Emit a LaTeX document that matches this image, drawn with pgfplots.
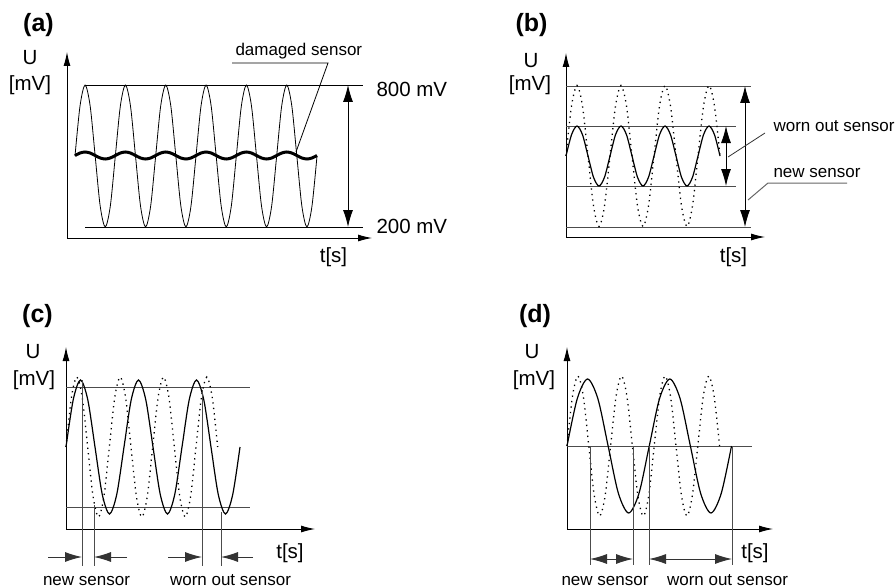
\documentclass[border=0pt]{standalone}
\usepackage{pgfplots}
\pgfplotsset{compat=1.18}
\usetikzlibrary{arrows.meta}
\usepackage{fontspec}
\setmainfont{Liberation Sans}
\newcommand\fa{\fontsize{17bp}{20bp}\selectfont}
\newcommand\fb{\fontsize{20.5bp}{24bp}\selectfont}
\newcommand\fc{\bfseries\fontsize{25bp}{30bp}\selectfont}
\begin{document}
\begin{tikzpicture}[
  tip/.style={-{Latex[length=17bp,width=10bp]}},
  dtip/.style={{Latex[length=17bp,width=10bp]}-{Latex[length=17bp,width=10bp]}},
  atip/.style={-{Latex[length=14bp,width=7bp]}},
  ref/.style={black!70,line width=0.9bp},
  dots/.style={black,line width=1.3bp,dash pattern=on 1.3bp off 4.2bp,smooth},
  sol/.style={black,line width=1.2bp,smooth}
]
\useasboundingbox (0,0) rectangle (895bp,587bp);
\begin{axis}[at={(0,0)},anchor=south west,width=895bp,height=587bp,scale only axis,
  xmin=0,xmax=895,ymin=0,ymax=587,y dir=reverse,hide axis,clip=false]
% ---------------- (a)
\addplot[black,line width=0.9bp,atip] coordinates {(67,238) (67,52)};
\addplot[black,line width=0.9bp,atip] coordinates {(67,238) (372,238)};
\addplot[black,line width=0.8bp] coordinates {(85,85) (363,85)};
\addplot[black,line width=0.8bp] coordinates {(85,227) (363,227)};
\addplot[black,line width=0.9bp,dtip] coordinates {(348,85) (348,227)};
\addplot[black,line width=0.8bp,smooth] coordinates {
(75,156) (80.04,105.8) (85.08,85) (90.13,105.8) (95.17,156) (100.21,206.2) (105.25,227) (110.29,206.2)
(115.33,156) (120.38,105.8) (125.42,85) (130.46,105.8) (135.5,156) (140.54,206.2) (145.58,227) (150.63,206.2)
(155.67,156) (160.71,105.8) (165.75,85) (170.79,105.8) (175.83,156) (180.88,206.2) (185.92,227) (190.96,206.2)
(196,156) (201.04,105.8) (206.08,85) (211.13,105.8) (216.17,156) (221.21,206.2) (226.25,227) (231.29,206.2)
(236.33,156) (241.38,105.8) (246.42,85) (251.46,105.8) (256.5,156) (261.54,206.2) (266.58,227) (271.63,206.2)
(276.67,156) (281.71,105.8) (286.75,85) (291.79,105.8) (296.83,156) (301.88,206.2) (306.92,227) (311.96,206.2)
(317,156)};
\addplot[black,line width=3bp,smooth] coordinates {
(75,155.5) (80.04,153) (85.08,152) (90.13,153) (95.17,155.5) (100.21,158) (105.25,159) (110.29,158)
(115.33,155.5) (120.38,153) (125.42,152) (130.46,153) (135.5,155.5) (140.54,158) (145.58,159) (150.63,158)
(155.67,155.5) (160.71,153) (165.75,152) (170.79,153) (175.83,155.5) (180.88,158) (185.92,159) (190.96,158)
(196,155.5) (201.04,153) (206.08,152) (211.13,153) (216.17,155.5) (221.21,158) (226.25,159) (231.29,158)
(236.33,155.5) (241.38,153) (246.42,152) (251.46,153) (256.5,155.5) (261.54,158) (266.58,159) (271.63,158)
(276.67,155.5) (281.71,153) (286.75,152) (291.79,153) (296.83,155.5) (301.88,158) (306.92,159) (311.96,158)
(317,155.5)};
\addplot[black,line width=0.8bp] coordinates {(232,63) (328,63) (296,152)};
\node[font=\fc] at (axis cs:38.5,25) {(a)};
\node[font=\fb,anchor=base] at (axis cs:30,65) {U};
\node[font=\fb,anchor=base] at (axis cs:30,91) {[mV]};
\node[font=\fb] at (axis cs:333.5,257) {t[s]};
\node[font=\fb,anchor=base west] at (axis cs:373,97) {800 mV};
\node[font=\fb,anchor=base west] at (axis cs:373,233) {200 mV};
\node[font=\fa,anchor=base west] at (axis cs:232,56) {damaged sensor};
% ---------------- (b)
\addplot[black,line width=0.9bp,atip] coordinates {(566,237) (566,53)};
\addplot[black,line width=0.9bp,atip] coordinates {(566,237) (765,237)};
\addplot[ref] coordinates {(566,86) (751,86)};
\addplot[ref] coordinates {(566,126) (736,126)};
\addplot[ref] coordinates {(566,186) (736,186)};
\addplot[ref] coordinates {(566,227) (751,227)};
\addplot[black,line width=0.9bp,dtip] coordinates {(745,86) (745,227)};
\addplot[black,line width=0.9bp,dtip] coordinates {(726,126) (726,186)};
\addplot[dots] coordinates {
(566,156) (571.5,106.1) (577,85.5) (582.5,106.1) (588,156) (593.5,205.9) (599,226.5) (604.5,205.9)
(610,156) (615.5,106.1) (621,85.5) (626.5,106.1) (632,156) (637.5,205.9) (643,226.5) (648.5,205.9)
(654,156) (659.5,106.1) (665,85.5) (670.5,106.1) (676,156) (681.5,205.9) (687,226.5) (692.5,205.9)
(698,156) (703.5,106.1) (709,85.5) (714.5,106.1) (720,156)};
\addplot[sol] coordinates {
(566,156) (571.5,134.8) (577,126) (582.5,134.8) (588,156) (593.5,177.2) (599,186) (604.5,177.2)
(610,156) (615.5,134.8) (621,126) (626.5,134.8) (632,156) (637.5,177.2) (643,186) (648.5,177.2)
(654,156) (659.5,134.8) (665,126) (670.5,134.8) (676,156) (681.5,177.2) (687,186) (692.5,177.2)
(698,156) (703.5,134.8) (709,126) (714.5,134.8) (720,156)};
\addplot[black!80,line width=0.8bp] coordinates {(765,133) (728,157)};
\addplot[black!60,line width=1bp] coordinates {(847,183) (768,183) (748,200)};
\node[font=\fc] at (axis cs:531.5,25) {(b)};
\node[font=\fb,anchor=base] at (axis cs:531,68) {U};
\node[font=\fb,anchor=base] at (axis cs:530,91) {[mV]};
\node[font=\fb] at (axis cs:733.5,257.5) {t[s]};
\node[font=\fa,anchor=base west] at (axis cs:770,131) {worn out sensor};
\node[font=\fa,anchor=base west] at (axis cs:770,177) {new sensor};
% ---------------- (c)
\addplot[black,line width=0.9bp,atip] coordinates {(66,529) (66,347)};
\addplot[black,line width=0.9bp,atip] coordinates {(66,529) (315,529)};
\addplot[ref] coordinates {(66,387) (250,387)};
\addplot[ref] coordinates {(66,507) (250,507)};
\addplot[dots] coordinates {
(66,447) (71.42,397.5) (76.83,377) (82.25,397.5) (87.67,447) (93.08,496.5) (98.5,517) (103.92,496.5)
(109.33,447) (114.75,397.5) (120.17,377) (125.58,397.5) (131,447) (136.42,496.5) (141.83,517) (147.25,496.5)
(152.67,447) (158.08,397.5) (163.5,377) (168.92,397.5) (174.33,447) (179.75,496.5) (185.17,517) (190.58,496.5)
(196,447) (201.42,397.5) (206.83,377) (212.25,397.5) (217.67,447)};
\addplot[sol] coordinates {
(66,447) (73.25,399.6) (80.5,380) (87.75,399.6) (95,447) (102.25,494.4) (109.5,514) (116.75,494.4)
(124,447) (131.25,399.6) (138.5,380) (145.75,399.6) (153,447) (160.25,494.4) (167.5,514) (174.75,494.4)
(182,447) (189.25,399.6) (196.5,380) (203.75,399.6) (211,447) (218.25,494.4) (225.5,514) (232.75,494.4)
(240,447)};
\addplot[ref] coordinates {(82,380) (82,566)};
\addplot[ref] coordinates {(94,505) (94,566)};
\addplot[ref] coordinates {(202,390) (202,566)};
\addplot[ref] coordinates {(221,512) (221,566)};
\addplot[black!80,line width=0.9bp,tip] coordinates {(48,557) (82,557)};
\addplot[black!80,line width=0.9bp,tip] coordinates {(127,557) (94,557)};
\addplot[black!80,line width=0.9bp,tip] coordinates {(168,557) (202,557)};
\addplot[black!80,line width=0.9bp,tip] coordinates {(253,557) (221,557)};
\node[font=\fc] at (axis cs:37.5,316) {(c)};
\node[font=\fb,anchor=base] at (axis cs:33,358) {U};
\node[font=\fb,anchor=base] at (axis cs:34,385) {[mV]};
\node[font=\fb] at (axis cs:290,553.5) {t[s]};
\node[font=\fa,anchor=base] at (axis cs:86.5,585) {new sensor};
\node[font=\fa,anchor=base] at (axis cs:230.5,585) {worn out sensor};
% ---------------- (d)
\addplot[black,line width=0.9bp,atip] coordinates {(567,529) (567,347)};
\addplot[black,line width=0.9bp,atip] coordinates {(567,529) (773,529)};
\addplot[ref] coordinates {(567,446) (752,446)};
\addplot[dots] coordinates {
(567,446) (572.45,396.5) (577.9,376) (583.35,396.5) (588.8,446) (594.25,495.5) (599.7,516) (605.15,495.5)
(610.6,446) (616.05,396.5) (621.5,376) (626.95,396.5) (632.4,446) (637.85,495.5) (643.3,516) (648.75,495.5)
(654.2,446) (659.65,396.5) (665.1,376) (670.55,396.5) (676,446) (681.45,495.5) (686.9,516) (692.35,495.5)
(697.8,446) (703.25,396.5) (708.7,376) (714.15,396.5) (719.6,446)};
\addplot[sol] coordinates {
(567,446) (577.28,398.6) (587.56,379) (597.84,398.6) (608.13,446) (618.41,493.4) (628.69,513) (638.97,493.4)
(649.25,446) (659.53,398.6) (669.81,379) (680.09,398.6) (690.38,446) (700.66,493.4) (710.94,513) (721.22,493.4)
(731.5,446)};
\addplot[ref] coordinates {(590,446) (590,565)};
\addplot[ref] coordinates {(633,446) (633,565)};
\addplot[ref] coordinates {(649,446) (649,565)};
\addplot[ref] coordinates {(732,446) (732,565)};
\addplot[black!80,line width=0.9bp,dtip] coordinates {(590,559) (633,559)};
\addplot[black!80,line width=0.9bp,dtip] coordinates {(649,559) (732,559)};
\node[font=\fc] at (axis cs:535,316) {(d)};
\node[font=\fb,anchor=base] at (axis cs:532,358) {U};
\node[font=\fb,anchor=base] at (axis cs:534,385) {[mV]};
\node[font=\fb] at (axis cs:755,553.5) {t[s]};
\node[font=\fa,anchor=base] at (axis cs:605,585) {new sensor};
\node[font=\fa,anchor=base] at (axis cs:727.5,585) {worn out sensor};
\end{axis}
\end{tikzpicture}
\end{document}
